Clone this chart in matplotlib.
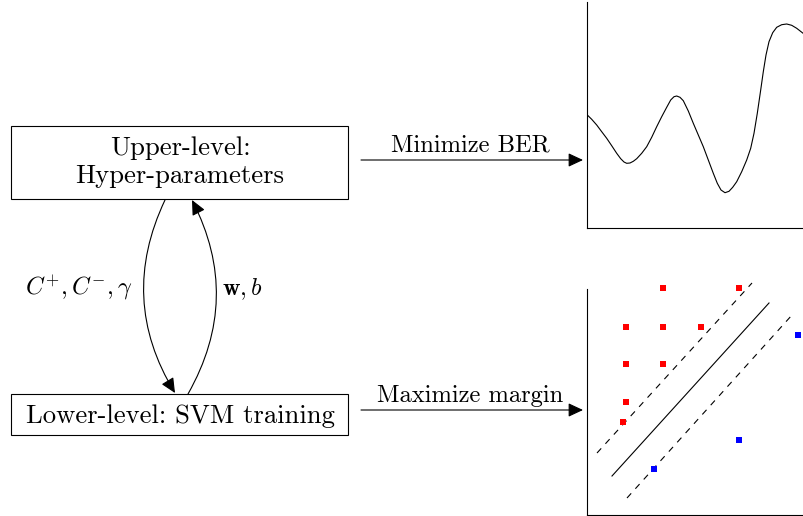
import matplotlib
matplotlib.use("Agg")
import matplotlib.pyplot as plt
from matplotlib.patches import Rectangle, FancyArrowPatch, ArrowStyle

plt.rcParams['mathtext.fontset'] = 'cm'
plt.rcParams['font.family'] = ['cmr10', 'DejaVu Serif']
plt.rcParams['lines.scale_dashes'] = False

# BER curve (local px coords inside the top-right panel)
curve_x = [0.3, 4.7, 9.7, 14.7, 19.7, 24.7, 29.7, 33.7, 37, 39.7, 43, 46.3, 49.7,
           54.7, 59.7, 64.7, 69.7, 74.7, 79.7, 83.7, 87, 89.7, 93, 96.3, 101.3,
           106.3, 111.3, 116.3, 121.3, 126.3, 130.3, 134, 138, 142, 145.7, 149.7,
           154.7, 159.7, 163.7, 167, 170.3, 173.7, 176.3, 179, 182, 185.7, 189.7,
           194.7, 199.7, 204.7, 209.7, 217]
curve_y = [113, 108.7, 103, 96.3, 89.7, 82.3, 74.7, 69.3, 66, 64.7, 65, 66.7, 69.3,
           74.7, 81.3, 90.7, 101.3, 111.3, 120.7, 128, 131.3, 132, 130.7, 127.3, 117,
           104.7, 93, 81.3, 68, 54.7, 44.7, 38, 35.3, 36.7, 40.7, 46.3,
           56.3, 68, 79.7, 94.7, 114.7, 138, 156.3, 173, 186.3, 195.3, 200.7,
           203.3, 204, 202.7, 199.7, 194]

# SVM panel points
red_x = [76, 152, 39, 76, 114, 39, 76, 39, 36]
red_y = [227, 227, 188, 188, 188, 151, 151, 113, 93]
blue_x = [211, 152, 67]
blue_y = [180, 75, 46]

# separating hyperplane and margins (endpoints)
sep_x, sep_y = [25, 182], [39, 212]
upper_x, upper_y = [10, 165], [62, 232]
lower_x, lower_y = [40, 205], [17, 200]

upper_lines = ["Upper-level:", "Hyper-parameters"]
lower_label = "Lower-level: SVM training"
arrow_labels = ["Minimize BER", "Maximize margin"]
down_label = r"$C^{+}, C^{-}, \gamma$"
up_label = r"$\mathbf{w}, b$"

W, H = 804, 516
fig = plt.figure(figsize=(W / 100, H / 100), dpi=100)
ax = fig.add_axes([0, 0, 1, 1])
ax.set_xlim(0, W)
ax.set_ylim(H, 0)
ax.axis('off')

lw = 0.8
fs_box = 19.2
fs_arr = 17.7
fs_math = 17.5

# boxes
ax.add_patch(Rectangle((11, 126), 337, 73, fill=False, lw=lw, ec='black'))
ax.add_patch(Rectangle((11, 394), 337, 41, fill=False, lw=lw, ec='black'))
ax.text(180, 155, upper_lines[0], ha='center', va='baseline', fontsize=fs_box)
ax.text(180, 183, upper_lines[1], ha='center', va='baseline', fontsize=fs_box)
ax.text(180, 423, lower_label, ha='center', va='baseline', fontsize=fs_box)

head = ArrowStyle('-|>', head_length=0.9, head_width=0.42)

# curved arrows between the levels
ax.add_patch(FancyArrowPatch((165, 200), (175, 393), connectionstyle='arc3,rad=0.27',
                             arrowstyle=head, mutation_scale=10, lw=lw, color='black',
                             shrinkA=0, shrinkB=0))
ax.add_patch(FancyArrowPatch((188, 394), (192, 200), connectionstyle='arc3,rad=0.27',
                             arrowstyle=head, mutation_scale=10, lw=lw, color='black',
                             shrinkA=0, shrinkB=0))
ax.text(132, 295, down_label, ha='right', va='baseline', fontsize=fs_math)
ax.text(222, 295, up_label, ha='left', va='baseline', fontsize=fs_math)

# horizontal arrows
for y, lab in [(160, arrow_labels[0]), (410, arrow_labels[1])]:
    ax.add_patch(FancyArrowPatch((361, y), (583, y), arrowstyle=head, mutation_scale=10,
                                 lw=lw, color='black', shrinkA=0, shrinkB=0))
    ax.text(470, y - 8, lab, ha='center', va='baseline', fontsize=fs_arr)

# top-right: BER curve
ax1 = fig.add_axes([587 / W, (H - 228) / H, 217 / W, 226 / H])
ax1.set_xlim(0, 217)
ax1.set_ylim(0, 226)
ax1.plot(curve_x, curve_y, color='black', lw=lw)
for s in ['top', 'right']:
    ax1.spines[s].set_visible(False)
for s in ['left', 'bottom']:
    ax1.spines[s].set_linewidth(lw)
ax1.set_xticks([])
ax1.set_yticks([])
ax1.patch.set_alpha(0)

# bottom-right: SVM margin
ax2 = fig.add_axes([587 / W, 1 / H, 217 / W, 226 / H])
ax2.set_xlim(0, 217)
ax2.set_ylim(0, 226)
ax2.plot(sep_x, sep_y, color='black', lw=lw, clip_on=False)
ax2.plot(upper_x, upper_y, color='black', lw=lw, ls=(0, (4.5, 4.5)), clip_on=False)
ax2.plot(lower_x, lower_y, color='black', lw=lw, ls=(0, (4.5, 4.5)), clip_on=False)
ax2.plot(red_x, red_y, 's', color='#ff0000', ms=4.5, mew=0, clip_on=False)
ax2.plot(blue_x, blue_y, 's', color='#0000ff', ms=4.5, mew=0, clip_on=False)
for s in ['top', 'right']:
    ax2.spines[s].set_visible(False)
for s in ['left', 'bottom']:
    ax2.spines[s].set_linewidth(lw)
ax2.set_xticks([])
ax2.set_yticks([])
ax2.patch.set_alpha(0)

fig.savefig('out.png', dpi=100)
